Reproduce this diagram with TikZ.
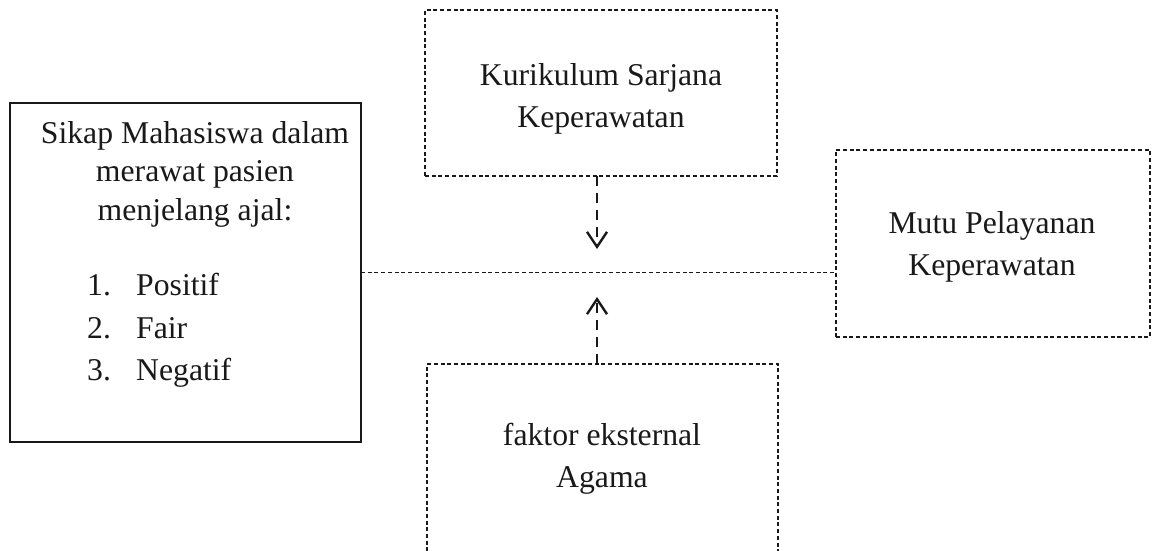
\documentclass[tikz,border=0pt]{standalone}
\usepackage{fontspec}
\setmainfont{Liberation Serif}
\usetikzlibrary{arrows.meta}
\begin{document}
\begin{tikzpicture}[x=1pt,y=-1pt,
  solidbox/.style={draw=black!90,line width=1.3pt,rectangle,inner sep=0pt,outer sep=0pt},
  dbox/.style={draw=black!90,line width=1.1pt,dash pattern=on 4pt off 2.7pt,rectangle,inner sep=0pt,outer sep=0pt},
  thinline/.style={draw=black!90,line width=1.1pt,dash pattern=on 4pt off 2.7pt},
  bigarrow/.style={draw=black!90,line width=2.4pt,dash pattern=on 10pt off 7pt,-{Straight Barb[length=15pt,width=20pt,line width=2.4pt]}},
  txt/.style={font=\fontsize{31.7}{42}\selectfont,align=center,inner sep=0pt,text=black!90}
  ]
\clip (0,0) rectangle (1152,551);
\fill[white] (0,0) rectangle (1152,551);
% boxes
\node[solidbox,minimum width=351pt,minimum height=339pt] (L) at (185.5,272.5) {};
\node[dbox,minimum width=352pt,minimum height=166pt] (T) at (601,93) {};
\node[dbox,minimum width=314pt,minimum height=187pt] (R) at (993,243.5) {};
\node[dbox,minimum width=351pt,minimum height=200pt] (B) at (602.5,464) {};
% texts (anchor base = baseline of last line)
\node[txt,font=\fontsize{31.7}{38.5}\selectfont,anchor=base] (Lt) at (195,220) {Sikap Mahasiswa dalam\\merawat pasien\\menjelang ajal:};
\node[txt,anchor=base west] (L1) at (87,295) {1.};
\node[txt,anchor=base west] (L2) at (87,338) {2.};
\node[txt,anchor=base west] (L3) at (87,380) {3.};
\node[txt,anchor=base west] (L1t) at (136,295) {Positif};
\node[txt,anchor=base west] (L2t) at (136,338) {Fair};
\node[txt,anchor=base west] (L3t) at (136,380) {Negatif};
\node[txt,anchor=base] (Tt) at (601,127) {Kurikulum Sarjana\\Keperawatan};
\node[txt,anchor=base] (Rt) at (992,275) {Mutu Pelayanan\\Keperawatan};
\node[txt,anchor=base] (Bt) at (602,487) {faktor eksternal\\Agama};
% connectors
\coordinate (tipD) at (597,249);
\coordinate (tipU) at (597,297);
\draw[thinline] (L.east) -- (L.east -| R.west);
\draw[bigarrow] (T.south -| tipD) -- (tipD);
\draw[bigarrow] (B.north -| tipU) -- (tipU);
\end{tikzpicture}
\end{document}
